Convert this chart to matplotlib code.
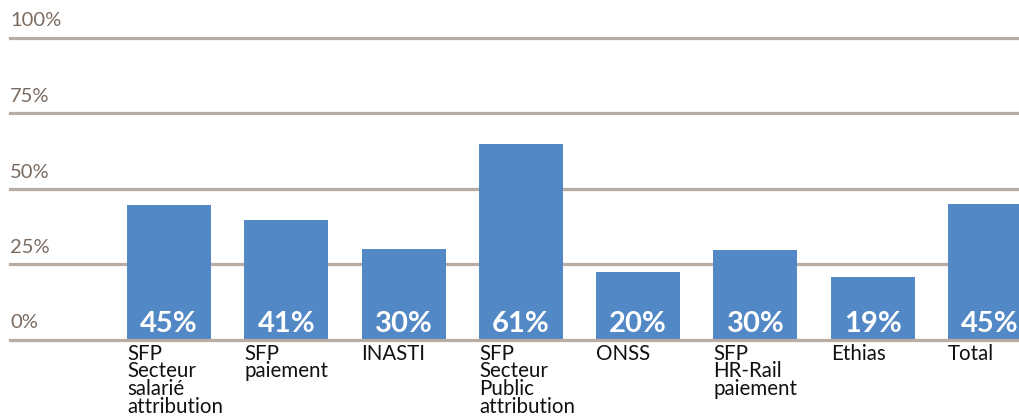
import matplotlib
matplotlib.use("Agg")
import matplotlib.pyplot as plt
import matplotlib.transforms as mtransforms

# données
categories = [
    "SFP\nSecteur\nsalarié\nattribution",
    "SFP\npaiement",
    "INASTI",
    "SFP\nSecteur\nPublic\nattribution",
    "ONSS",
    "SFP\nHR-Rail\npaiement",
    "Ethias",
    "Total",
]
bar_heights = [44.7, 39.7, 30.0, 64.8, 22.4, 29.8, 20.7, 44.8]
bar_labels = ["45%", "41%", "30%", "61%", "20%", "30%", "19%", "45%"]
y_ticks = [0, 25, 50, 75, 100]
y_tick_labels = ["0%", "25%", "50%", "75%", "100%"]

BAR_COLOR = "#5288c6"
GRID_COLOR = "#b9aca2"
TICK_COLOR = "#7b6a5f"
FONT = ["Lato", "DejaVu Sans"]

fig = plt.figure(figsize=(10.2, 4.16), dpi=100)
W, H = 1020, 416
ax = fig.add_axes([10 / W, (H - 339.5) / H, 1010 / W, (339.5 - 37.5) / H])
ax.set_xlim(-1.356, 7.256)
ax.set_ylim(0, 100)
ax.axis("off")

# lignes horizontales
for v in y_ticks:
    ax.axhline(v, color=GRID_COLOR, lw=2.3, zorder=3 if v == 0 else 0, clip_on=False)

# étiquettes de l'axe y, au-dessus des lignes
tick_tr = mtransforms.offset_copy(ax.get_yaxis_transform(), fig=fig, x=0, y=8, units="dots")
for v, lab in zip(y_ticks, y_tick_labels):
    ax.text(0, v, lab, transform=tick_tr, ha="left", va="bottom",
            fontsize=14.5, color=TICK_COLOR, family=FONT)

x = list(range(len(categories)))
width = 0.716
ax.bar(x, bar_heights, width=width, color=BAR_COLOR, zorder=2, clip_on=False)

# valeurs dans les barres
val_tr = mtransforms.offset_copy(ax.transData, fig=fig, x=0, y=7, units="dots")
for xi, lab in zip(x, bar_labels):
    ax.text(xi, 0, lab, transform=val_tr, ha="center", va="baseline",
            fontsize=21, fontweight="bold", color="white", family=FONT, zorder=4)

# catégories sous l'axe
cat_tr = mtransforms.offset_copy(ax.transData, fig=fig, x=0, y=-4, units="dots")
for xi, name in zip(x, categories):
    ax.text(xi - width / 2, 0, name, transform=cat_tr, ha="left", va="top",
            fontsize=14.8, color="#111111", family=FONT, linespacing=0.86,
            clip_on=False)

fig.savefig("out.png", dpi=100)
